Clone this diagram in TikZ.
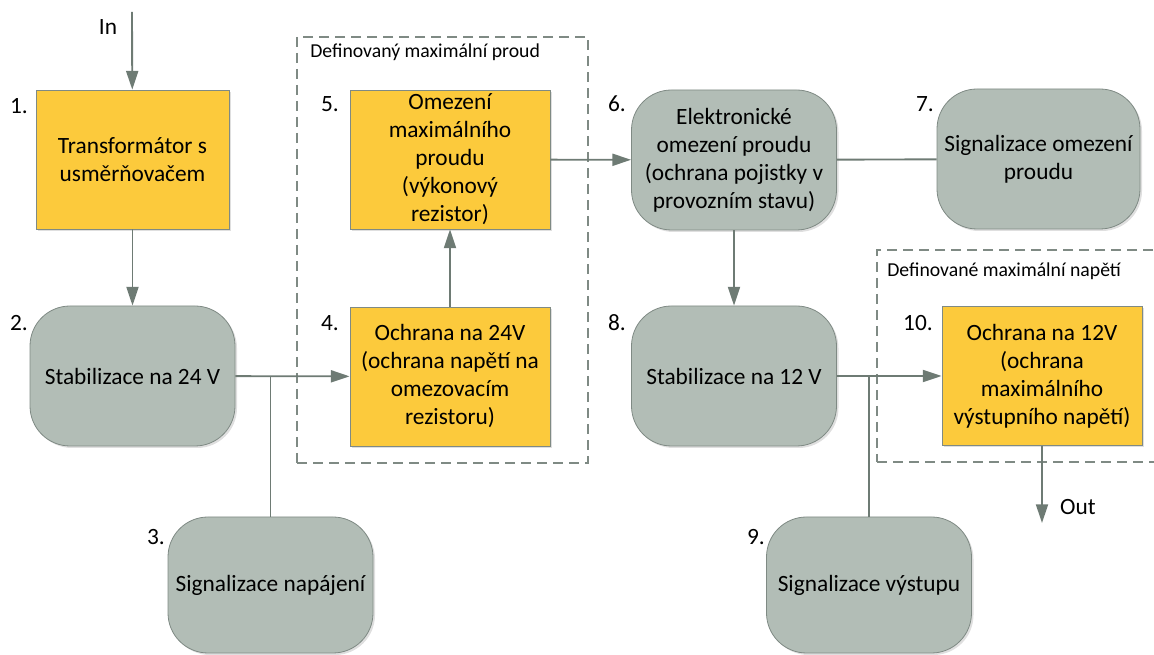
\documentclass[tikz,border=0pt]{standalone}
\usepackage{fontspec}
\setmainfont{Carlito}
\usetikzlibrary{arrows.meta,shadows}

\definecolor{boxyellow}{HTML}{FCCA3C}
\definecolor{boxgrey}{HTML}{B2BDB6}
\definecolor{edgegrey}{HTML}{7F8A84}
\definecolor{wiregrey}{HTML}{6E7B74}

\tikzset{
  mainfont/.style={font=\fontsize{17.5}{21}\selectfont},
  yellowbox/.style={draw=edgegrey, line width=0.6pt, fill=boxyellow, mainfont,
    minimum width=150pt, minimum height=104.25pt, align=center, inner sep=0pt,
    drop shadow={shadow xshift=1.5pt, shadow yshift=-1.5pt, opacity=0.25}},
  greybox/.style={yellowbox, fill=boxgrey, rounded corners=30pt,
    minimum width=153.75pt, minimum height=105pt},
  num/.style={mainfont, inner sep=0pt},
  limitbox/.style={draw=edgegrey, line width=1pt, dash pattern=on 7.5pt off 4.5pt},
  limitlabel/.style={font=\fontsize{14.8}{17}\selectfont, anchor=west, inner sep=0pt},
  wire/.style={draw=wiregrey, line width=1.4pt},
  link/.style={wire, -{Triangle[length=14pt,width=9pt]}},
}

\begin{document}
\begin{tikzpicture}[x=0.75pt, y=-0.75pt]
  \useasboundingbox (0,0) rectangle (1154,655);

  % dashed limit frames
  \node[limitbox, minimum width=218.25pt, minimum height=319.5pt] (fr1) at (442.5,250) {};
  \node[limitbox, minimum width=216pt, minimum height=159pt] (fr2) at (1021,356) {};
  \node[limitlabel] (fl1) at (310,52) {Definovaný maximální proud};
  \node[limitlabel] (fl2) at (887,271) {Definované maximální napětí};

  % blocks
  \node[yellowbox, minimum width=144.75pt] (b1) at (132.5,159.5) {Transformátor s\\usměrňovačem};
  \node[greybox] (b2) at (132.5,376) {Stabilizace na 24 V};
  \node[greybox, minimum height=102pt] (b3) at (270.5,585) {Signalizace napájení};
  \node[yellowbox] (b4) at (450,376.5) {Ochrana na 24V\\(ochrana napětí na\\omezovacím\\rezistoru)};
  \node[yellowbox] (b5) at (450,159.5) {Omezení\\maximálního\\proudu\\(výkonový\\rezistor)};
  \node[greybox] (b6) at (734,160) {Elektronické\\omezení proudu\\(ochrana pojistky v\\provozním stavu)};
  \node[greybox, minimum width=152.25pt] (b7) at (1038.5,159) {Signalizace omezení\\proudu};
  \node[greybox] (b8) at (734,376) {Stabilizace na 12 V};
  \node[greybox, minimum height=102pt] (b9) at (869,585) {Signalizace výstupu};
  \node[yellowbox] (b10) at (1042,376) {Ochrana na 12V\\(ochrana\\maximálního\\výstupního napětí)};

  % step numbers
  \foreach \n/\x/\y in {1/19/106, 2/19/323, 3/156/537, 4/330/323, 5/330/104,
                        6/617/104, 7/925/104, 8/617/323, 9/756/537, 10/918/323} {
    \node[num] (n\n) at (\x,\y) {\n.};
  }

  % in / out
  \coordinate (in) at (132,12);
  \coordinate (out) at (1042,523);
  \node[num] (inlabel) at (108,27) {In};
  \node[num] (outlabel) at (1078,507) {Out};

  % connections
  \draw[link] (in) -- (b1);
  \draw[link] (b1) -- (b2);
  \draw[link] (b2) -- (b4);
  \draw[wire] (b3.north) -- (b3.north |- b2.east);
  \draw[link] (b4) -- (b5);
  \draw[link] (b5) -- (b6);
  \draw[wire] (b6) -- (b7);
  \draw[link] (b6) -- (b8);
  \draw[link] (b8) -- (b10);
  \draw[wire] (b9.north) -- (b9.north |- b8.east);
  \draw[link] (b10) -- (out);
\end{tikzpicture}
\end{document}
